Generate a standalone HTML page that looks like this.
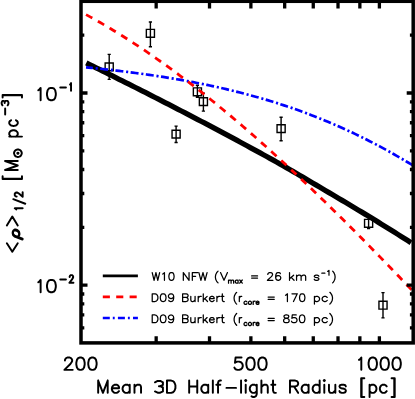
<!DOCTYPE html>
<html><head><meta charset="utf-8"><title>plot</title>
<style>html,body{margin:0;padding:0;background:#fff;font-family:"Liberation Sans",sans-serif}svg{display:block}</style></head>
<body><svg width="415" height="399" viewBox="0 0 415 399" role="img"><desc>Log-log plot: mean density within half-light radius, &lt;rho&gt;_1/2 [M_sun pc^-3] (y axis, 10^-2 to 10^-1) versus Mean 3D Half-light Radius [pc] (x axis 200, 500, 1000). Legend: W10 NFW (V_max = 26 km s^-1); D09 Burkert (r_core = 170 pc); D09 Burkert (r_core = 850 pc).</desc>
<rect width="415" height="399" fill="#fff"/>
<path d="M109.2 54.4V79.4 M107.6 54.4h3.2 M107.6 79.4h3.2 M105.15 63h8.1v7.8h-8.1z M150.4 22V46.8 M148.8 22h3.2 M148.8 46.8h3.2 M146.35 29.4h8.1v7.8h-8.1z M176.1 126.1V142.5 M174.5 126.1h3.2 M174.5 142.5h3.2 M172.05 130.2h8.1v7.8h-8.1z M197.4 85.3V97.3 M195.8 85.3h3.2 M195.8 97.3h3.2 M193.35 87.9h8.1v7.8h-8.1z M203.4 93.2V111.1 M201.8 93.2h3.2 M201.8 111.1h3.2 M199.35 97.7h8.1v7.8h-8.1z M281.1 117.2V140.7 M279.5 117.2h3.2 M279.5 140.7h3.2 M277.05 124.7h8.1v7.8h-8.1z M368.6 217.6V228.6 M367 217.6h3.2 M367 228.6h3.2 M364.55 219.4h8.1v7.8h-8.1z M383 292.6V317.9 M381.4 292.6h3.2 M381.4 317.9h3.2 M378.95 301.3h8.1v7.8h-8.1z" fill="none" stroke="#000" stroke-width="1.4" stroke-linejoin="miter"/>
<clipPath id="c"><rect x="81.0" y="1.3" width="332.2" height="341.59999999999997"/></clipPath>
<g fill="none" clip-path="url(#c)">
<path d="M86.3 62.97 L89.58 64.59 L92.86 66.21 L96.14 67.83 L99.42 69.46 L102.7 71.08 L105.98 72.71 L109.26 74.35 L112.54 75.98 L115.82 77.62 L119.1 79.26 L122.38 80.9 L125.66 82.55 L128.94 84.2 L132.22 85.85 L135.5 87.5 L138.78 89.16 L142.06 90.82 L145.34 92.48 L148.62 94.15 L151.9 95.81 L155.18 97.49 L158.46 99.16 L161.74 100.84 L165.02 102.52 L168.29 104.21 L171.57 105.89 L174.85 107.59 L178.13 109.28 L181.41 110.98 L184.69 112.68 L187.97 114.39 L191.25 116.1 L194.53 117.81 L197.81 119.53 L201.09 121.25 L204.37 122.97 L207.65 124.7 L210.93 126.43 L214.21 128.17 L217.49 129.91 L220.77 131.65 L224.05 133.4 L227.33 135.16 L230.61 136.91 L233.89 138.67 L237.17 140.44 L240.45 142.21 L243.73 143.99 L247.01 145.77 L250.29 147.55 L253.57 149.34 L256.85 151.13 L260.13 152.93 L263.41 154.74 L266.69 156.54 L269.97 158.36 L273.25 160.18 L276.53 162 L279.81 163.83 L283.09 165.71 L286.37 167.6 L289.65 169.5 L292.93 171.4 L296.21 173.3 L299.49 175.22 L302.77 177.14 L306.05 179.06 L309.33 180.99 L312.61 182.92 L315.89 184.86 L319.17 186.81 L322.45 188.77 L325.73 190.71 L329.01 192.63 L332.28 194.55 L335.56 196.48 L338.84 198.41 L342.12 200.35 L345.4 202.29 L348.68 204.25 L351.96 206.21 L355.24 208.17 L358.52 210.15 L361.8 212.13 L365.08 214.11 L368.36 216.11 L371.64 218.11 L374.92 220.11 L378.2 222.13 L381.48 224.15 L384.76 226.18 L388.04 228.22 L391.32 230.26 L394.6 232.31 L397.88 234.37 L401.16 236.44 L404.44 238.51 L407.72 240.6 L411 242.69" stroke="#000" stroke-width="5.3"/>
<path d="M86.03 67.34 L88.78 67.61 L91.53 67.88 L94.28 68.16 L97.03 68.44 L99.78 68.73 L102.53 69.02 L105.27 69.32 L108.02 69.63 L110.77 69.94 L113.52 70.25 L116.27 70.57 L119.02 70.9 L121.77 71.23 L124.52 71.56 L127.27 71.91 L130.02 72.26 L132.77 72.61 L135.52 72.97 L138.27 73.34 L141.02 73.71 L143.76 74.09 L146.51 74.48 L149.26 74.87 L152.01 75.28 L154.76 75.68 L157.51 76.1 L160.26 76.52 L163.01 76.95 L165.76 77.39 L168.51 77.83 L171.26 78.28 L174.01 78.74 L176.76 79.21 L179.5 79.69 L182.25 80.17 L185 80.67 L187.75 81.17 L190.5 81.68 L193.25 82.2 L196 82.73 L198.75 83.27 L201.5 83.81 L204.25 84.37 L207 84.94 L209.75 85.51 L212.5 86.1 L215.25 86.69 L217.99 87.3 L220.74 87.92 L223.49 88.55 L226.24 89.18 L228.99 89.83 L231.74 90.49 L234.49 91.16 L237.24 91.85 L239.99 92.54 L242.74 93.25 L245.49 93.96 L248.24 94.69 L250.99 95.44 L253.74 96.19 L256.48 96.96 L259.23 97.74 L261.98 98.53 L264.73 99.33 L267.48 100.15 L270.23 100.98 L272.98 101.83 L275.73 102.69 L278.48 103.56 L281.23 104.45 L283.98 105.35 L286.73 106.26 L289.48 107.19 L292.22 108.14 L294.97 109.09 L297.72 110.07 L300.47 111.05 L303.22 112.06 L305.97 113.08 L308.72 114.11 L311.47 115.16 L314.22 116.22 L316.97 117.3 L319.72 118.4 L322.47 119.51 L325.22 120.64 L327.97 121.78 L330.71 122.94 L333.46 124.12 L336.21 125.31 L338.96 126.52 L341.71 127.74 L344.46 128.99 L347.21 130.25 L349.96 131.52 L352.71 132.81 L355.46 134.12 L358.21 135.45 L360.96 136.79 L363.71 138.15 L366.46 139.53 L369.2 140.93 L371.95 142.34 L374.7 143.77 L377.45 145.21 L380.2 146.68 L382.95 148.16 L385.7 149.65 L388.45 151.17 L391.2 152.7 L393.95 154.25 L396.7 155.82 L399.45 157.4 L402.2 159 L404.94 160.62 L407.69 162.25 L410.44 163.91 L413.19 165.58" stroke="#00f" stroke-width="2.7" stroke-dasharray="7.95 2.8 2.1 2.48" stroke-dashoffset="1.1"/>
<path d="M86.03 14.61 L88.78 16.12 L91.53 17.64 L94.28 19.19 L97.03 20.74 L99.78 22.32 L102.53 23.91 L105.27 25.52 L108.02 27.15 L110.77 28.79 L113.52 30.45 L116.27 32.13 L119.02 33.83 L121.77 35.54 L124.52 37.27 L127.27 39.01 L130.02 40.78 L132.77 42.56 L135.52 44.35 L138.27 46.16 L141.02 47.99 L143.76 49.84 L146.51 51.7 L149.26 53.57 L152.01 55.47 L154.76 57.38 L157.51 59.3 L160.26 61.24 L163.01 63.2 L165.76 65.17 L168.51 67.16 L171.26 69.16 L174.01 71.18 L176.76 73.21 L179.5 75.26 L182.25 77.32 L185 79.4 L187.75 81.5 L190.5 83.6 L193.25 85.72 L196 87.86 L198.75 90.01 L201.5 92.17 L204.25 94.35 L207 96.54 L209.75 98.75 L212.5 100.97 L215.25 103.2 L217.99 105.45 L220.74 107.71 L223.49 109.98 L226.24 112.26 L228.99 114.56 L231.74 116.87 L234.49 119.2 L237.24 121.53 L239.99 123.88 L242.74 126.24 L245.49 128.61 L248.24 130.99 L250.99 133.39 L253.74 135.8 L256.48 138.22 L259.23 140.65 L261.98 143.09 L264.73 145.54 L267.48 148 L270.23 150.48 L272.98 152.96 L275.73 155.46 L278.48 157.97 L281.23 160.48 L283.98 163.01 L286.73 165.55 L289.48 168.1 L292.22 170.66 L294.97 173.22 L297.72 175.8 L300.47 178.39 L303.22 180.98 L305.97 183.59 L308.72 186.2 L311.47 188.83 L314.22 191.46 L316.97 194.11 L319.72 196.76 L322.47 199.42 L325.22 202.09 L327.97 204.76 L330.71 207.45 L333.46 210.14 L336.21 212.85 L338.96 215.56 L341.71 218.28 L344.46 221 L347.21 223.74 L349.96 226.48 L352.71 229.23 L355.46 231.99 L358.21 234.75 L360.96 237.53 L363.71 240.31 L366.46 243.09 L369.2 245.89 L371.95 248.69 L374.7 251.5 L377.45 254.32 L380.2 257.14 L382.95 259.97 L385.7 262.8 L388.45 265.65 L391.2 268.5 L393.95 271.35 L396.7 274.22 L399.45 277.08 L402.2 279.96 L404.94 282.84 L407.69 285.73 L410.44 288.62 L413.19 291.52" stroke="#f00" stroke-width="2.8" stroke-dasharray="7.2 6.37"/>
</g>
<rect x="81.0" y="1.3" width="332.2" height="341.59999999999997" fill="none" stroke="#000" stroke-width="3.5"/>
<path d="M156.17 342.9v-6.6 M156.17 1.3v7.2 M209.51 342.9v-6.6 M209.51 1.3v7.2 M250.88 342.9v-6.6 M250.88 1.3v7.2 M284.68 342.9v-6.6 M284.68 1.3v7.2 M313.26 342.9v-6.6 M313.26 1.3v7.2 M338.02 342.9v-6.6 M338.02 1.3v7.2 M359.86 342.9v-6.6 M359.86 1.3v7.2 M379.39 342.9v-6.6 M379.39 1.3v7.2 M81 327.84h3.3 M413.2 327.84h-3.3 M81 314.97h3.3 M413.2 314.97h-3.3 M81 303.83h3.3 M413.2 303.83h-3.3 M81 293.99h3.3 M413.2 293.99h-3.3 M81 285.2h6.5 M413.2 285.2h-6.5 M81 227.34h3.3 M413.2 227.34h-3.3 M81 193.5h3.3 M413.2 193.5h-3.3 M81 169.48h3.3 M413.2 169.48h-3.3 M81 150.86h3.3 M413.2 150.86h-3.3 M81 135.64h3.3 M413.2 135.64h-3.3 M81 122.77h3.3 M413.2 122.77h-3.3 M81 111.63h3.3 M413.2 111.63h-3.3 M81 101.79h3.3 M413.2 101.79h-3.3 M81 93h6.5 M413.2 93h-6.5 M81 35.14h3.3 M413.2 35.14h-3.3" fill="none" stroke="#000" stroke-width="3.3"/>
<path d="M102.8 275.9H137.9" stroke="#000" stroke-width="2.9" fill="none"/>
<path d="M102.8 296.9H137.8" stroke="#f00" stroke-width="2.6" stroke-dasharray="7.1 6.3" fill="none"/>
<path d="M102.8 318H137.9" stroke="#00f" stroke-width="2.6" stroke-dasharray="7 3 1.9 3.2" fill="none"/>
<path d="M64.97 360.44 L64.97 359.85 L65.57 358.68 L66.17 358.09 L67.36 357.5 L69.75 357.5 L70.94 358.09 L71.54 358.68 L72.14 359.85 L72.14 361.03 L71.54 362.21 L70.35 363.97 L64.38 369.85 L72.74 369.85 M79.9 357.5 L78.11 358.09 L76.92 359.85 L76.32 362.79 L76.32 364.56 L76.92 367.5 L78.11 369.26 L79.9 369.85 L81.1 369.85 L82.89 369.26 L84.08 367.5 L84.68 364.56 L84.68 362.79 L84.08 359.85 L82.89 358.09 L81.1 357.5 L79.9 357.5 M91.85 357.5 L90.06 358.09 L88.86 359.85 L88.26 362.79 L88.26 364.56 L88.86 367.5 L90.06 369.26 L91.85 369.85 L93.04 369.85 L94.83 369.26 L96.03 367.5 L96.62 364.56 L96.62 362.79 L96.03 359.85 L94.83 358.09 L93.04 357.5 L91.85 357.5 M241.54 357.5 L235.57 357.5 L234.97 362.79 L235.57 362.21 L237.36 361.62 L239.15 361.62 L240.94 362.21 L242.14 363.38 L242.74 365.15 L242.74 366.32 L242.14 368.09 L240.94 369.26 L239.15 369.85 L237.36 369.85 L235.57 369.26 L234.97 368.67 L234.38 367.5 M249.9 357.5 L248.11 358.09 L246.92 359.85 L246.32 362.79 L246.32 364.56 L246.92 367.5 L248.11 369.26 L249.9 369.85 L251.1 369.85 L252.89 369.26 L254.08 367.5 L254.68 364.56 L254.68 362.79 L254.08 359.85 L252.89 358.09 L251.1 357.5 L249.9 357.5 M261.85 357.5 L260.06 358.09 L258.86 359.85 L258.26 362.79 L258.26 364.56 L258.86 367.5 L260.06 369.26 L261.85 369.85 L263.04 369.85 L264.83 369.26 L266.03 367.5 L266.62 364.56 L266.62 362.79 L266.03 359.85 L264.83 358.09 L263.04 357.5 L261.85 357.5 M358.98 359.85 L359.92 359.27 L361.32 357.5 L361.32 369.85 M372.16 357.5 L370.37 358.09 L369.17 359.85 L368.58 362.79 L368.58 364.56 L369.17 367.5 L370.37 369.26 L372.16 369.85 L373.35 369.85 L375.14 369.26 L376.34 367.5 L376.94 364.56 L376.94 362.79 L376.34 359.85 L375.14 358.09 L373.35 357.5 L372.16 357.5 M384.1 357.5 L382.31 358.09 L381.12 359.85 L380.52 362.79 L380.52 364.56 L381.12 367.5 L382.31 369.26 L384.1 369.85 L385.3 369.85 L387.09 369.26 L388.28 367.5 L388.88 364.56 L388.88 362.79 L388.28 359.85 L387.09 358.09 L385.3 357.5 L384.1 357.5 M396.05 357.5 L394.26 358.09 L393.06 359.85 L392.46 362.79 L392.46 364.56 L393.06 367.5 L394.26 369.26 L396.05 369.85 L397.24 369.85 L399.03 369.26 L400.23 367.5 L400.82 364.56 L400.82 362.79 L400.23 359.85 L399.03 358.09 L397.24 357.5 L396.05 357.5 M98.17 380.56 L98.17 392.85 M98.17 380.56 L102.94 392.85 M107.7 380.56 L102.94 392.85 M107.7 380.56 L107.7 392.85 M111.86 388.17 L119 388.17 L119 387 L118.41 385.83 L117.81 385.25 L116.62 384.66 L114.84 384.66 L113.65 385.25 L112.46 386.42 L111.86 388.17 L111.86 389.34 L112.46 391.1 L113.65 392.27 L114.84 392.85 L116.62 392.85 L117.81 392.27 L119 391.1 M129.72 384.66 L129.72 392.85 M129.72 386.42 L128.53 385.25 L127.34 384.66 L125.55 384.66 L124.36 385.25 L123.17 386.42 L122.58 388.17 L122.58 389.34 L123.17 391.1 L124.36 392.27 L125.55 392.85 L127.34 392.85 L128.53 392.27 L129.72 391.1 M134.48 384.66 L134.48 392.85 M134.48 387 L136.26 385.25 L137.45 384.66 L139.24 384.66 L140.43 385.25 L141.03 387 L141.03 392.85 M154.97 382.28 L157.62 380.98 L160.28 380.98 L162.93 382.28 L162.93 384.89 L160.28 386.2 M158.95 386.2 L160.28 386.2 L162.93 387.5 L162.93 391.42 L160.28 392.72 L157.62 392.72 L154.97 391.42 M166.97 380.56 L166.97 392.85 M166.97 380.56 L171.2 380.56 L173.01 381.15 L174.22 382.32 L174.82 383.49 L175.43 385.25 L175.43 388.17 L174.82 389.93 L174.22 391.1 L173.01 392.27 L171.2 392.85 L166.97 392.85 M189.17 380.56 L189.17 392.85 M197.26 380.56 L197.26 392.85 M189.17 386.42 L197.26 386.42 M208.22 384.66 L208.22 392.85 M208.22 386.42 L207.07 385.25 L205.92 384.66 L204.18 384.66 L203.03 385.25 L201.88 386.42 L201.3 388.17 L201.3 389.34 L201.88 391.1 L203.03 392.27 L204.18 392.85 L205.92 392.85 L207.07 392.27 L208.22 391.1 M212.84 380.56 L212.84 392.85 M220.93 380.56 L219.77 380.56 L218.62 381.15 L218.04 382.91 L218.04 392.85 M216.31 384.66 L220.35 384.66 M226.47 387.89 L236.03 387.89 M241.07 380.56 L241.07 392.85 M245.14 380.56 L245.72 381.15 L246.3 380.56 L245.72 379.98 L245.14 380.56 M245.72 384.66 L245.72 392.85 M256.76 384.66 L256.76 394.02 L256.18 395.78 L255.6 396.36 L254.43 396.95 L252.69 396.95 L251.53 396.36 M256.76 386.42 L255.6 385.25 L254.43 384.66 L252.69 384.66 L251.53 385.25 L250.37 386.42 L249.79 388.17 L249.79 389.34 L250.37 391.1 L251.53 392.27 L252.69 392.85 L254.43 392.85 L255.6 392.27 L256.76 391.1 M261.4 380.56 L261.4 392.85 M261.4 387 L263.15 385.25 L264.31 384.66 L266.05 384.66 L267.21 385.25 L267.79 387 L267.79 392.85 M273.02 380.56 L273.02 390.51 L273.6 392.27 L274.76 392.85 L275.92 392.85 M271.28 384.66 L275.34 384.66 M289.98 380.56 L289.98 392.85 M289.98 380.56 L295.21 380.56 L296.96 381.15 L297.54 381.74 L298.12 382.91 L298.12 384.08 L297.54 385.25 L296.96 385.83 L295.21 386.42 L289.98 386.42 M294.05 386.42 L298.12 392.85 M308.59 384.66 L308.59 392.85 M308.59 386.42 L307.43 385.25 L306.26 384.66 L304.52 384.66 L303.36 385.25 L302.19 386.42 L301.61 388.17 L301.61 389.34 L302.19 391.1 L303.36 392.27 L304.52 392.85 L306.26 392.85 L307.43 392.27 L308.59 391.1 M319.65 380.56 L319.65 392.85 M319.65 386.42 L318.48 385.25 L317.32 384.66 L315.57 384.66 L314.41 385.25 L313.25 386.42 L312.66 388.17 L312.66 389.34 L313.25 391.1 L314.41 392.27 L315.57 392.85 L317.32 392.85 L318.48 392.27 L319.65 391.1 M323.72 380.56 L324.3 381.15 L324.88 380.56 L324.3 379.98 L323.72 380.56 M324.3 384.66 L324.3 392.85 M328.95 384.66 L328.95 390.51 L329.54 392.27 L330.7 392.85 L332.44 392.85 L333.61 392.27 L335.35 390.51 M335.35 384.66 L335.35 392.85 M345.82 386.42 L345.24 385.25 L343.5 384.66 L341.75 384.66 L340.01 385.25 L339.43 386.42 L340.01 387.59 L341.17 388.17 L344.08 388.75 L345.24 389.34 L345.82 390.51 L345.82 391.1 L345.24 392.27 L343.5 392.85 L341.75 392.85 L340.01 392.27 L339.43 391.1 M361.18 378.23 L361.18 396.95 M361.62 378.23 L361.62 396.95 M361.18 378.23 L364.32 378.23 M361.18 396.95 L364.32 396.95 M369.58 384.66 L369.58 396.95 M369.58 386.42 L370.72 385.25 L371.86 384.66 L373.58 384.66 L374.72 385.25 L375.86 386.42 L376.44 388.17 L376.44 389.34 L375.86 391.1 L374.72 392.27 L373.58 392.85 L371.86 392.85 L370.72 392.27 L369.58 391.1 M386.72 386.42 L385.58 385.25 L384.44 384.66 L382.72 384.66 L381.58 385.25 L380.44 386.42 L379.87 388.17 L379.87 389.34 L380.44 391.1 L381.58 392.27 L382.72 392.85 L384.44 392.85 L385.58 392.27 L386.72 391.1 M394.27 378.23 L394.27 396.95 M394.72 378.23 L394.72 396.95 M391.58 378.23 L394.72 378.23 M391.58 396.95 L394.72 396.95 M38.27 90.29 L39.21 89.7 L40.62 87.94 L40.62 100.25 M50.77 87.94 L48.87 88.53 L47.61 90.29 L46.98 93.22 L46.98 94.98 L47.61 97.91 L48.87 99.66 L50.77 100.25 L52.03 100.25 L53.93 99.66 L55.19 97.91 L55.82 94.98 L55.82 93.22 L55.19 90.29 L53.93 88.53 L52.03 87.94 L50.77 87.94 M60.27 87.48 L65.93 87.48 M70.07 84.57 L70.45 84.21 L71.03 83.12 L71.03 90.75 M38.27 282.29 L39.21 281.7 L40.62 279.94 L40.62 292.25 M50.77 279.94 L48.87 280.53 L47.61 282.29 L46.98 285.22 L46.98 286.98 L47.61 289.91 L48.87 291.66 L50.77 292.25 L52.03 292.25 L53.93 291.66 L55.19 289.91 L55.82 286.98 L55.82 285.22 L55.19 282.29 L53.93 280.53 L52.03 279.94 L50.77 279.94 M60.27 279.48 L65.93 279.48 M69.66 276.94 L69.66 276.57 L69.95 275.85 L70.24 275.48 L70.82 275.12 L71.98 275.12 L72.56 275.48 L72.85 275.85 L73.14 276.57 L73.14 277.3 L72.85 278.03 L72.27 279.12 L69.38 282.75 L73.43 282.75 M6.86 243.28 L12.3 251.72 L17.75 243.28 M6.86 225.43 L12.3 216.57 L17.75 225.43 M16.27 209.43 L15.9 208.93 L14.77 208.17 L22.65 208.17 M13.27 199.17 L25.28 203.72 M16.65 196.49 L16.27 196.49 L15.52 196.16 L15.15 195.83 L14.77 195.16 L14.77 193.84 L15.15 193.17 L15.52 192.84 L16.27 192.51 L17.02 192.51 L17.77 192.84 L18.9 193.5 L22.65 196.83 L22.65 192.17 M2.62 179.03 L21.98 179.03 M2.62 178.62 L21.98 178.62 M2.62 179.03 L2.62 176.17 M21.98 179.03 L21.98 176.17 M5.04 170.03 L17.75 170.03 M5.04 170.03 L17.75 165.5 M5.04 160.97 L17.75 165.5 M5.04 160.97 L17.75 160.97 M14.07 153.73 L14.44 154.8 L15.17 155.86 L16.26 156.57 L17.35 156.93 L18.45 156.93 L19.54 156.57 L20.63 155.86 L21.36 154.8 L21.73 153.73 L21.73 152.67 L21.36 151.6 L20.63 150.54 L19.54 149.83 L18.45 149.47 L17.35 149.47 L16.26 149.83 L15.17 150.54 L14.44 151.6 L14.07 152.67 L14.07 153.73 M17.35 153.38 L17.72 153.73 L18.08 153.73 L18.45 153.38 L18.45 153.02 L18.08 152.67 L17.72 152.67 L17.35 153.02 L17.35 153.38 M17.72 153.38 L18.08 153.38 L18.08 153.02 L17.72 153.02 L17.72 153.38 M9.28 136.62 L21.98 136.62 M11.1 136.62 L9.88 135.57 L9.28 134.51 L9.28 132.92 L9.88 131.86 L11.1 130.8 L12.91 130.28 L14.12 130.28 L15.94 130.8 L17.14 131.86 L17.75 132.92 L17.75 134.51 L17.14 135.57 L15.94 136.62 M11.1 120.17 L9.88 121.13 L9.28 122.09 L9.28 123.53 L9.88 124.49 L11.1 125.45 L12.91 125.93 L14.12 125.93 L15.94 125.45 L17.14 124.49 L17.75 123.53 L17.75 122.09 L17.14 121.13 L15.94 120.17 M5.17 114.53 L5.17 108.57 M2.42 105.33 L1.67 103.84 L1.67 102.36 L2.42 100.88 L3.93 100.88 L4.68 102.36 M4.68 103.1 L4.68 102.36 L5.43 100.88 L7.68 100.88 L8.43 102.36 L8.43 103.84 L7.68 105.33 M2.62 95.25 L21.98 95.25 M2.62 94.88 L21.98 94.88 M2.62 97.53 L2.62 94.88 M21.98 97.53 L21.98 94.88" fill="none" stroke="#000" stroke-width="1.95" stroke-linecap="round" stroke-linejoin="round"/>
<path d="M16.96 236.95 L18.34 236.35 L18.79 235.75 L19.25 234.55 L19.25 233.35 L18.79 231.55 L17.42 230.35 L16.05 229.75 L14.68 229.75 L13.76 230.35 L13.31 230.95 L12.85 232.15 L12.85 233.35 L13.31 235.15 L14.68 236.35 L16.05 236.95 L22.45 239.35 M19.25 233.35 L18.79 232.15 L17.42 230.95 L16.05 230.35 L14.22 230.35 L13.31 230.95 M12.85 233.35 L13.31 234.55 L14.68 235.75 L16.05 236.35 L22.45 238.75" fill="none" stroke="#000" stroke-width="2.3" stroke-linecap="round" stroke-linejoin="round"/>
<path d="M152.22 272.59 L154.08 280.3 M155.93 272.59 L154.08 280.3 M155.93 272.59 L157.78 280.3 M159.63 272.59 L157.78 280.3 M162.59 274.06 L163.34 273.69 L164.45 272.59 L164.45 280.3 M171.11 272.59 L170 272.96 L169.26 274.06 L168.89 275.9 L168.89 277 L169.26 278.83 L170 279.93 L171.11 280.3 L171.85 280.3 L172.96 279.93 L173.7 278.83 L174.07 277 L174.07 275.9 L173.7 274.06 L172.96 272.96 L171.85 272.59 L171.11 272.59 M183.32 272.59 L183.32 280.3 M183.32 272.59 L189.06 280.3 M189.06 272.59 L189.06 280.3 M192.33 272.59 L192.33 280.3 M192.33 272.59 L197.66 272.59 M192.33 276.26 L195.61 276.26 M198.89 272.59 L200.93 280.3 M202.98 272.59 L200.93 280.3 M202.98 272.59 L205.03 280.3 M207.07 272.59 L205.03 280.3 M218.07 271.12 L217.32 271.86 L216.56 272.96 L215.8 274.43 L215.43 276.26 L215.43 277.73 L215.8 279.57 L216.56 281.03 L217.32 282.13 L218.07 282.87 M220.53 272.59 L224 280.3 M227.47 272.59 L224 280.3 M228.53 280.01 L228.53 283.2 M228.53 280.92 L229.22 280.24 L229.69 280.01 L230.39 280.01 L230.86 280.24 L231.09 280.92 L231.09 283.2 M231.09 280.92 L231.79 280.24 L232.25 280.01 L232.95 280.01 L233.42 280.24 L233.65 280.92 L233.65 283.2 M238.08 280.01 L238.08 283.2 M238.08 280.7 L237.61 280.24 L237.15 280.01 L236.45 280.01 L235.98 280.24 L235.52 280.7 L235.28 281.38 L235.28 281.83 L235.52 282.52 L235.98 282.97 L236.45 283.2 L237.15 283.2 L237.61 282.97 L238.08 282.52 M239.71 280.01 L242.28 283.2 M242.28 280.01 L239.71 283.2 M251.62 275.9 L257.57 275.9 M251.62 278.1 L257.57 278.1 M267.82 274.43 L267.82 274.06 L268.21 273.33 L268.6 272.96 L269.39 272.59 L270.96 272.59 L271.74 272.96 L272.14 273.33 L272.53 274.06 L272.53 274.8 L272.14 275.53 L271.35 276.63 L267.43 280.3 L272.92 280.3 M280.38 273.69 L279.99 272.96 L278.81 272.59 L278.03 272.59 L276.85 272.96 L276.06 274.06 L275.67 275.9 L275.67 277.73 L276.06 279.2 L276.85 279.93 L278.03 280.3 L278.42 280.3 L279.6 279.93 L280.38 279.2 L280.77 278.1 L280.77 277.73 L280.38 276.63 L279.6 275.9 L278.42 275.53 L278.03 275.53 L276.85 275.9 L276.06 276.63 L275.67 277.73 M289.52 272.59 L289.52 280.3 M293.67 275.16 L289.52 278.83 M291.18 277.36 L294.08 280.3 M296.56 275.16 L296.56 280.3 M296.56 276.63 L297.81 275.53 L298.64 275.16 L299.88 275.16 L300.71 275.53 L301.12 276.63 L301.12 280.3 M301.12 276.63 L302.36 275.53 L303.19 275.16 L304.43 275.16 L305.26 275.53 L305.68 276.63 L305.68 280.3 M318.88 276.26 L318.45 275.53 L317.18 275.16 L315.92 275.16 L314.65 275.53 L314.23 276.26 L314.65 277 L315.49 277.36 L317.61 277.73 L318.45 278.1 L318.88 278.83 L318.88 279.2 L318.45 279.93 L317.18 280.3 L315.92 280.3 L314.65 279.93 L314.23 279.2 M321.82 273.15 L324.88 273.15 M327.62 271.33 L328.17 271.1 L328.98 270.42 L328.98 275.2 M332.62 271.12 L333.32 271.86 L334.02 272.96 L334.72 274.43 L335.07 276.26 L335.07 277.73 L334.72 279.57 L334.02 281.03 L333.32 282.13 L332.62 282.87 M152.22 293.79 L152.22 301.5 M152.22 293.79 L155.06 293.79 L156.27 294.16 L157.08 294.89 L157.49 295.63 L157.89 296.73 L157.89 298.56 L157.49 299.67 L157.08 300.4 L156.27 301.13 L155.06 301.5 L152.22 301.5 M162.75 293.79 L161.53 294.16 L160.72 295.26 L160.32 297.1 L160.32 298.2 L160.72 300.03 L161.53 301.13 L162.75 301.5 L163.56 301.5 L164.77 301.13 L165.58 300.03 L165.99 298.2 L165.99 297.1 L165.58 295.26 L164.77 294.16 L163.56 293.79 L162.75 293.79 M173.68 296.36 L173.27 297.46 L172.46 298.2 L171.25 298.56 L170.84 298.56 L169.63 298.2 L168.82 297.46 L168.41 296.36 L168.41 296 L168.82 294.89 L169.63 294.16 L170.84 293.79 L171.25 293.79 L172.46 294.16 L173.27 294.89 L173.68 296.36 L173.68 298.2 L173.27 300.03 L172.46 301.13 L171.25 301.5 L170.44 301.5 L169.22 301.13 L168.82 300.4 M182.62 293.79 L182.62 301.5 M182.62 293.79 L186.13 293.79 L187.3 294.16 L187.69 294.53 L188.07 295.26 L188.07 296 L187.69 296.73 L187.3 297.1 L186.13 297.46 M182.62 297.46 L186.13 297.46 L187.3 297.83 L187.69 298.2 L188.07 298.93 L188.07 300.03 L187.69 300.77 L187.3 301.13 L186.13 301.5 L182.62 301.5 M190.8 296.36 L190.8 300.03 L191.19 301.13 L191.97 301.5 L193.13 301.5 L193.91 301.13 L195.08 300.03 M195.08 296.36 L195.08 301.5 M198.2 296.36 L198.2 301.5 M198.2 298.56 L198.58 297.46 L199.36 296.73 L200.14 296.36 L201.31 296.36 M203.26 293.79 L203.26 301.5 M207.15 296.36 L203.26 300.03 M204.81 298.56 L207.54 301.5 M209.48 298.56 L214.15 298.56 L214.15 297.83 L213.77 297.1 L213.38 296.73 L212.6 296.36 L211.43 296.36 L210.65 296.73 L209.87 297.46 L209.48 298.56 L209.48 299.3 L209.87 300.4 L210.65 301.13 L211.43 301.5 L212.6 301.5 L213.38 301.13 L214.15 300.4 M216.88 296.36 L216.88 301.5 M216.88 298.56 L217.27 297.46 L218.05 296.73 L218.83 296.36 L219.99 296.36 M222.33 293.79 L222.33 300.03 L222.72 301.13 L223.5 301.5 L224.28 301.5 M221.16 296.36 L223.89 296.36 M236.68 292.32 L235.95 293.06 L235.22 294.16 L234.49 295.63 L234.12 297.46 L234.12 298.93 L234.49 300.77 L235.22 302.23 L235.95 303.33 L236.68 304.07 M239.32 296.36 L239.32 301.5 M239.32 298.56 L239.63 297.46 L240.24 296.73 L240.86 296.36 L241.78 296.36 M246.92 301.9 L246.44 301.44 L245.95 301.21 L245.23 301.21 L244.75 301.44 L244.27 301.9 L244.03 302.58 L244.03 303.03 L244.27 303.72 L244.75 304.17 L245.23 304.4 L245.95 304.4 L246.44 304.17 L246.92 303.72 M249.57 301.21 L249.09 301.44 L248.61 301.9 L248.37 302.58 L248.37 303.03 L248.61 303.72 L249.09 304.17 L249.57 304.4 L250.29 304.4 L250.78 304.17 L251.26 303.72 L251.5 303.03 L251.5 302.58 L251.26 301.9 L250.78 301.44 L250.29 301.21 L249.57 301.21 M253.19 301.21 L253.19 304.4 M253.19 302.58 L253.43 301.9 L253.91 301.44 L254.39 301.21 L255.12 301.21 M256.08 302.58 L258.98 302.58 L258.98 302.12 L258.73 301.67 L258.49 301.44 L258.01 301.21 L257.29 301.21 L256.8 301.44 L256.32 301.9 L256.08 302.58 L256.08 303.03 L256.32 303.72 L256.8 304.17 L257.29 304.4 L258.01 304.4 L258.49 304.17 L258.98 303.72 M268.12 297.1 L274.27 297.1 M268.12 299.3 L274.27 299.3 M285.52 295.26 L286.28 294.89 L287.42 293.79 L287.42 301.5 M297.29 293.79 L293.49 301.5 M291.97 293.79 L297.29 293.79 M301.84 293.79 L300.7 294.16 L299.94 295.26 L299.56 297.1 L299.56 298.2 L299.94 300.03 L300.7 301.13 L301.84 301.5 L302.6 301.5 L303.74 301.13 L304.5 300.03 L304.88 298.2 L304.88 297.1 L304.5 295.26 L303.74 294.16 L302.6 293.79 L301.84 293.79 M314.43 296.36 L314.43 304.07 M314.43 297.46 L315.28 296.73 L316.14 296.36 L317.42 296.36 L318.28 296.73 L319.14 297.46 L319.56 298.56 L319.56 299.3 L319.14 300.4 L318.28 301.13 L317.42 301.5 L316.14 301.5 L315.28 301.13 L314.43 300.4 M327.27 297.46 L326.42 296.73 L325.56 296.36 L324.28 296.36 L323.42 296.73 L322.56 297.46 L322.13 298.56 L322.13 299.3 L322.56 300.4 L323.42 301.13 L324.28 301.5 L325.56 301.5 L326.42 301.13 L327.27 300.4 M329.82 292.32 L330.58 293.06 L331.34 294.16 L332.1 295.63 L332.48 297.46 L332.48 298.93 L332.1 300.77 L331.34 302.23 L330.58 303.33 L329.82 304.07 M152.22 314.99 L152.22 322.7 M152.22 314.99 L155.06 314.99 L156.27 315.36 L157.08 316.09 L157.49 316.83 L157.89 317.93 L157.89 319.76 L157.49 320.87 L157.08 321.6 L156.27 322.33 L155.06 322.7 L152.22 322.7 M162.75 314.99 L161.53 315.36 L160.72 316.46 L160.32 318.3 L160.32 319.4 L160.72 321.23 L161.53 322.33 L162.75 322.7 L163.56 322.7 L164.77 322.33 L165.58 321.23 L165.99 319.4 L165.99 318.3 L165.58 316.46 L164.77 315.36 L163.56 314.99 L162.75 314.99 M173.68 317.56 L173.27 318.66 L172.46 319.4 L171.25 319.76 L170.84 319.76 L169.63 319.4 L168.82 318.66 L168.41 317.56 L168.41 317.19 L168.82 316.09 L169.63 315.36 L170.84 314.99 L171.25 314.99 L172.46 315.36 L173.27 316.09 L173.68 317.56 L173.68 319.4 L173.27 321.23 L172.46 322.33 L171.25 322.7 L170.44 322.7 L169.22 322.33 L168.82 321.6 M182.62 314.99 L182.62 322.7 M182.62 314.99 L186.13 314.99 L187.3 315.36 L187.69 315.73 L188.07 316.46 L188.07 317.19 L187.69 317.93 L187.3 318.3 L186.13 318.66 M182.62 318.66 L186.13 318.66 L187.3 319.03 L187.69 319.4 L188.07 320.13 L188.07 321.23 L187.69 321.97 L187.3 322.33 L186.13 322.7 L182.62 322.7 M190.8 317.56 L190.8 321.23 L191.19 322.33 L191.97 322.7 L193.13 322.7 L193.91 322.33 L195.08 321.23 M195.08 317.56 L195.08 322.7 M198.2 317.56 L198.2 322.7 M198.2 319.76 L198.58 318.66 L199.36 317.93 L200.14 317.56 L201.31 317.56 M203.26 314.99 L203.26 322.7 M207.15 317.56 L203.26 321.23 M204.81 319.76 L207.54 322.7 M209.48 319.76 L214.15 319.76 L214.15 319.03 L213.77 318.3 L213.38 317.93 L212.6 317.56 L211.43 317.56 L210.65 317.93 L209.87 318.66 L209.48 319.76 L209.48 320.5 L209.87 321.6 L210.65 322.33 L211.43 322.7 L212.6 322.7 L213.38 322.33 L214.15 321.6 M216.88 317.56 L216.88 322.7 M216.88 319.76 L217.27 318.66 L218.05 317.93 L218.83 317.56 L219.99 317.56 M222.33 314.99 L222.33 321.23 L222.72 322.33 L223.5 322.7 L224.28 322.7 M221.16 317.56 L223.89 317.56 M236.68 313.52 L235.95 314.26 L235.22 315.36 L234.49 316.83 L234.12 318.66 L234.12 320.13 L234.49 321.97 L235.22 323.43 L235.95 324.53 L236.68 325.27 M239.32 317.56 L239.32 322.7 M239.32 319.76 L239.63 318.66 L240.24 317.93 L240.86 317.56 L241.78 317.56 M246.92 323.1 L246.44 322.64 L245.95 322.41 L245.23 322.41 L244.75 322.64 L244.27 323.1 L244.03 323.78 L244.03 324.23 L244.27 324.92 L244.75 325.37 L245.23 325.6 L245.95 325.6 L246.44 325.37 L246.92 324.92 M249.57 322.41 L249.09 322.64 L248.61 323.1 L248.37 323.78 L248.37 324.23 L248.61 324.92 L249.09 325.37 L249.57 325.6 L250.29 325.6 L250.78 325.37 L251.26 324.92 L251.5 324.23 L251.5 323.78 L251.26 323.1 L250.78 322.64 L250.29 322.41 L249.57 322.41 M253.19 322.41 L253.19 325.6 M253.19 323.78 L253.43 323.1 L253.91 322.64 L254.39 322.41 L255.12 322.41 M256.08 323.78 L258.98 323.78 L258.98 323.32 L258.73 322.87 L258.49 322.64 L258.01 322.41 L257.29 322.41 L256.8 322.64 L256.32 323.1 L256.08 323.78 L256.08 324.23 L256.32 324.92 L256.8 325.37 L257.29 325.6 L258.01 325.6 L258.49 325.37 L258.98 324.92 M268.12 318.3 L274.27 318.3 M268.12 320.5 L274.27 320.5 M285.59 314.99 L284.41 315.36 L284.02 316.09 L284.02 316.83 L284.41 317.56 L285.2 317.93 L286.77 318.3 L287.95 318.66 L288.74 319.4 L289.13 320.13 L289.13 321.23 L288.74 321.97 L288.35 322.33 L287.17 322.7 L285.59 322.7 L284.41 322.33 L284.02 321.97 L283.62 321.23 L283.62 320.13 L284.02 319.4 L284.81 318.66 L285.99 318.3 L287.56 317.93 L288.35 317.56 L288.74 316.83 L288.74 316.09 L288.35 315.36 L287.17 314.99 L285.59 314.99 M296.22 314.99 L292.28 314.99 L291.89 318.3 L292.28 317.93 L293.46 317.56 L294.64 317.56 L295.82 317.93 L296.61 318.66 L297 319.76 L297 320.5 L296.61 321.6 L295.82 322.33 L294.64 322.7 L293.46 322.7 L292.28 322.33 L291.89 321.97 L291.5 321.23 M301.73 314.99 L300.55 315.36 L299.76 316.46 L299.37 318.3 L299.37 319.4 L299.76 321.23 L300.55 322.33 L301.73 322.7 L302.51 322.7 L303.69 322.33 L304.48 321.23 L304.88 319.4 L304.88 318.3 L304.48 316.46 L303.69 315.36 L302.51 314.99 L301.73 314.99 M314.43 317.56 L314.43 325.27 M314.43 318.66 L315.28 317.93 L316.14 317.56 L317.42 317.56 L318.28 317.93 L319.14 318.66 L319.56 319.76 L319.56 320.5 L319.14 321.6 L318.28 322.33 L317.42 322.7 L316.14 322.7 L315.28 322.33 L314.43 321.6 M327.27 318.66 L326.42 317.93 L325.56 317.56 L324.28 317.56 L323.42 317.93 L322.56 318.66 L322.13 319.76 L322.13 320.5 L322.56 321.6 L323.42 322.33 L324.28 322.7 L325.56 322.7 L326.42 322.33 L327.27 321.6 M329.82 313.52 L330.58 314.26 L331.34 315.36 L332.1 316.83 L332.48 318.66 L332.48 320.13 L332.1 321.97 L331.34 323.43 L330.58 324.53 L329.82 325.27" fill="none" stroke="#000" stroke-width="1.25" stroke-linecap="round" stroke-linejoin="round"/>
</svg></body></html>
